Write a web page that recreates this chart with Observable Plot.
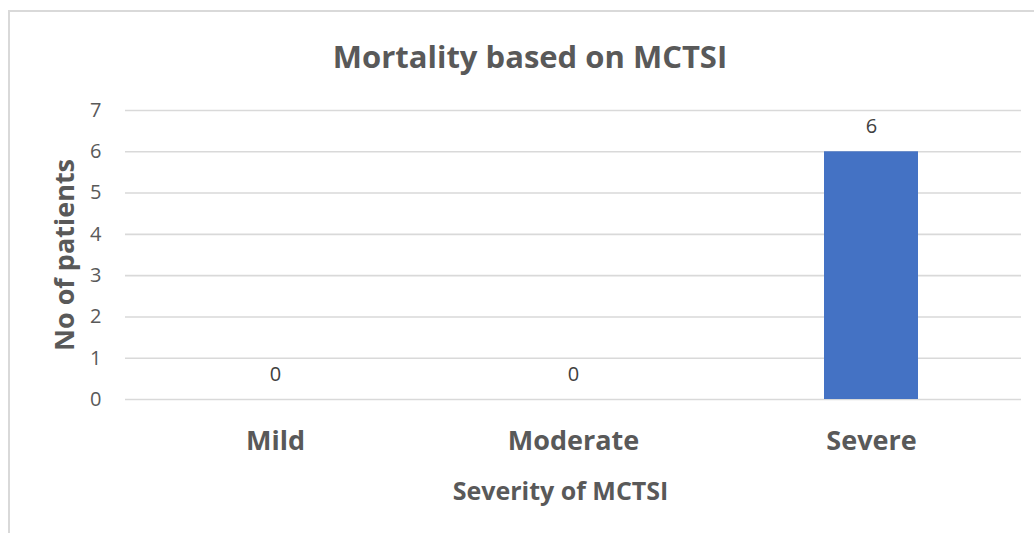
<!DOCTYPE html>
<html>
<head>
<meta charset="utf-8">
<script src="https://cdn.jsdelivr.net/npm/d3@7"></script>
<script src="https://cdn.jsdelivr.net/npm/@observablehq/plot@0.6"></script>
<style>
  html, body { margin: 0; padding: 0; background: #fff; overflow: hidden; }
  #wrap { position: relative; width: 1034px; height: 533px; font-family: "Open Sans", sans-serif; }
  #frame { position: absolute; left: 8px; top: 10px; width: 1100px; height: 600px; border-left: 2px solid #d9d9d9; border-top: 2px solid #d9d9d9; pointer-events: none; }
  #title { position: relative; height: 90px; }
  #title span { position: absolute; left: 530px; top: 35px; transform: translateX(-50%); white-space: nowrap; font-size: 31px; font-weight: bold; color: #595959; line-height: normal; }
</style>
</head>
<body>
<div id="wrap">
  <div id="title"><span>Mortality based on MCTSI</span></div>
  <div id="chart"></div>
  <div id="frame"></div>
</div>
<script>
const categories = ["Mild", "Moderate", "Severe"];
const deaths = [0, 0, 6];
const yTicks = [0, 1, 2, 3, 4, 5, 6, 7];
const yLabel = "No of patients";
const xLabel = "Severity of MCTSI";

const data = categories.map((c, i) => ({category: c, value: deaths[i]}));

const chart = Plot.plot({
  width: 1034,
  height: 443,
  marginTop: 20,
  marginBottom: 134,
  marginLeft: 125,
  marginRight: 13,
  style: {fontFamily: "Open Sans, sans-serif", background: "transparent", overflow: "visible"},
  x: {domain: categories, paddingInner: 0.685, paddingOuter: 0.3425, label: null},
  y: {domain: [0, 7], label: null},
  marks: [
    Plot.gridY(yTicks, {stroke: "#d9d9d9", strokeOpacity: 1, strokeWidth: 1.6}),
    Plot.barY(data, {x: "category", y: "value", fill: "#4472C4"}),
    Plot.text(data, {x: "category", y: "value", text: d => String(d.value), dy: -25, lineAnchor: "middle", fontSize: 20, fill: "#404040"}),
    Plot.axisY(yTicks, {tickSize: 0, tickPadding: 24, fontSize: 20, color: "#595959", label: null}),
    Plot.axisX({tickSize: 0, tickPadding: 31, fontSize: 27, fontWeight: "bold", color: "#595959", label: null}),
    Plot.text([yLabel], {frameAnchor: "left", textAnchor: "middle", dx: -60, rotate: -90, fontSize: 27, fontWeight: "bold", fill: "#595959", lineAnchor: "middle"}),
    Plot.text([xLabel], {frameAnchor: "bottom", textAnchor: "middle", dx: -13, dy: 92, fontSize: 25, fontWeight: "bold", fill: "#595959", lineAnchor: "middle"})
  ]
});
document.getElementById("chart").appendChild(chart);
</script>
</body>
</html>
